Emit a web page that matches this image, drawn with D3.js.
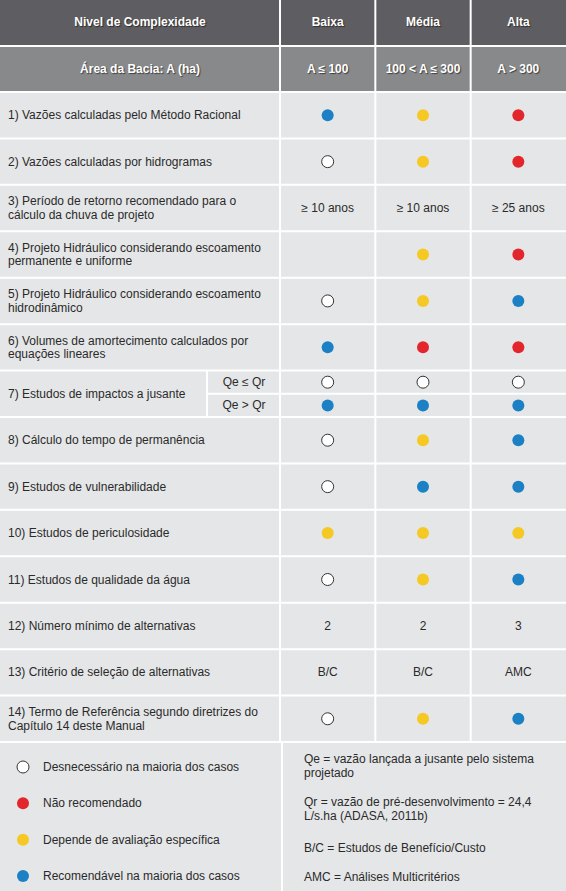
<!DOCTYPE html>
<html><head><meta charset="utf-8">
<script src="https://cdn.jsdelivr.net/npm/d3@7"></script>
<style>html,body{margin:0;padding:0;background:#fff;}svg{display:block;}</style>
</head><body>
<script>
// ---- data ----
const levels = ["Baixa", "Média", "Alta"];
const areas = ["A ≤ 100", "100 < A ≤ 300", "A > 300"];
const criteria = [
  "1) Vazões calculadas pelo Método Racional",
  "2) Vazões calculadas por hidrogramas",
  "3) Período de retorno recomendado para o|cálculo da chuva de projeto",
  "4) Projeto Hidráulico considerando escoamento|permanente e uniforme",
  "5) Projeto Hidráulico considerando escoamento|hidrodinâmico",
  "6) Volumes de amortecimento calculados por|equações lineares",
  "7) Estudos de impactos a jusante",
  "8) Cálculo do tempo de permanência",
  "9) Estudos de vulnerabilidade",
  "10) Estudos de periculosidade",
  "11) Estudos de qualidade da água",
  "12) Número mínimo de alternativas",
  "13) Critério de seleção de alternativas",
  "14) Termo de Referência segundo diretrizes do|Capítulo 14 deste Manual"
];
const subCriteria = ["Qe ≤ Qr", "Qe > Qr"];
// D = desnecessário, N = não recomendado, A = depende de avaliação, R = recomendável
const baixa = ["R", "D", "≥ 10 anos", "", "D", "R", ["D", "R"], "D", "D", "A", "D", "2", "B/C", "D"];
const media = ["A", "A", "≥ 10 anos", "A", "A", "N", ["D", "R"], "A", "R", "A", "A", "2", "B/C", "A"];
const alta  = ["N", "N", "≥ 25 anos", "N", "R", "N", ["D", "R"], "R", "R", "A", "R", "3", "AMC", "R"];
const legendCodes = ["D", "N", "A", "R"];
const legendLabels = ["Desnecessário na maioria dos casos", "Não recomendado", "Depende de avaliação específica", "Recomendável na maioria dos casos"];
const notes = [
  "Qe = vazão lançada a jusante pelo sistema|projetado",
  "Qr = vazão de pré-desenvolvimento = 24,4|L/s.ha (ADASA, 2011b)",
  "B/C = Estudos de Benefício/Custo",
  "AMC = Análises Multicritérios"
];

// ---- drawing ----
const W = 566, H = 891;
const colFill = {D: "#ffffff", N: "#e3262c", A: "#f6c824", R: "#1b80c4"};
const cellBg = "#e5e6e7";
const font = "'Liberation Sans', Arial, sans-serif";

const svg = d3.select("body").append("svg").attr("width", W).attr("height", H)
  .style("font-family", font);

const x = d3.scaleBand().domain(levels).range([280, W]);
const y = d3.scaleBand().domain(d3.range(criteria.length)).range([92, 742]);
const cols = [baixa, media, alta];

// headers
svg.append("rect").attr("x", 0).attr("y", 0).attr("width", W).attr("height", 92).attr("fill", "#fff");
svg.append("rect").attr("x", 0).attr("y", 0).attr("width", W).attr("height", 45).attr("fill", "#5e5e62");
svg.append("rect").attr("x", 0).attr("y", 47).attr("width", W).attr("height", 44).attr("fill", "#88898b");

const hdr = svg.append("g").attr("font-weight", "bold").attr("font-size", 12).attr("fill", "#fff")
  .attr("text-anchor", "middle").style("text-shadow", "1px 1px 1px rgba(0,0,0,0.55)");
hdr.append("text").attr("x", 140).attr("y", 26).text("Nivel de Complexidade");
hdr.append("text").attr("x", 140).attr("y", 73).text("Área da Bacia: A (ha)");
levels.forEach((l, i) => {
  hdr.append("text").attr("x", x(l) + x.bandwidth() / 2).attr("y", 26).text(l);
  hdr.append("text").attr("x", x(l) + x.bandwidth() / 2).attr("y", 73).text(areas[i]);
});

// body background
svg.append("rect").attr("x", 0).attr("y", 92).attr("width", W).attr("height", H - 92).attr("fill", cellBg);

// grid lines
const grid = svg.append("g").attr("stroke", "#fff").attr("stroke-width", 2);
d3.range(criteria.length + 1).forEach(i => {
  const yy = i < criteria.length ? y(i) : 742;
  grid.append("line").attr("x1", 0).attr("x2", W).attr("y1", yy).attr("y2", yy);
});
levels.forEach(l => {
  grid.append("line").attr("x1", x(l)).attr("x2", x(l)).attr("y1", 0).attr("y2", 742);
});
grid.append("line").attr("x1", 282).attr("x2", 282).attr("y1", 742).attr("y2", H);
// row 7 subdivision
const r7 = 6;
const subY = d3.scaleBand().domain(subCriteria).range([y(r7), y(r7) + y.bandwidth()]);
grid.append("line").attr("x1", 207).attr("x2", W).attr("y1", subY(subCriteria[1])).attr("y2", subY(subCriteria[1]));
grid.append("line").attr("x1", 207).attr("x2", 207).attr("y1", y(r7)).attr("y2", y(r7) + y.bandwidth());

const txt = svg.append("g").attr("font-size", 12).attr("fill", "#2a2a2a");

function multi(g, str, xx, cy, anchor, lh) {
  const lines = str.split("|");
  const t = g.append("text").attr("x", xx).attr("text-anchor", anchor || "start");
  const y0 = cy - (lines.length - 1) * lh / 2 + 4;
  lines.forEach((s, k) => t.append("tspan").attr("x", xx).attr("y", y0 + k * lh).text(s));
}

criteria.forEach((c, i) => {
  multi(txt, c, 8, y(i) + y.bandwidth() / 2, "start", 13.5);
});
subCriteria.forEach(s => {
  txt.append("text").attr("x", 244).attr("y", subY(s) + subY.bandwidth() / 2 + 4)
    .attr("text-anchor", "middle").text(s);
});

function mark(g, code, cx, cy) {
  if (colFill[code] !== undefined) {
    g.append("circle").attr("cx", cx).attr("cy", cy).attr("r", 6)
      .attr("fill", colFill[code])
      .attr("stroke", code === "D" ? "#333" : "none").attr("stroke-width", 1);
  } else if (code) {
    g.append("text").attr("x", cx).attr("y", cy + 4).attr("text-anchor", "middle").text(code);
  }
}

cols.forEach((col, ci) => {
  const cx = x(levels[ci]) + x.bandwidth() / 2;
  col.forEach((v, ri) => {
    if (Array.isArray(v)) {
      v.forEach((vv, k) => mark(txt, vv, cx, subY(subCriteria[k]) + subY.bandwidth() / 2));
    } else {
      mark(txt, v, cx, y(ri) + y.bandwidth() / 2);
    }
  });
});

// legend
const ly = d3.scalePoint().domain(legendCodes).range([767, 876]);
legendCodes.forEach((c, i) => {
  mark(txt, c, 23, ly(c));
  txt.append("text").attr("x", 43).attr("y", ly(c) + 4).text(legendLabels[i]);
});
const noteY = [766, 809, 848, 877];
notes.forEach((n, i) => multi(txt, n, 304, noteY[i], "start", 14));
</script>
</body></html>
